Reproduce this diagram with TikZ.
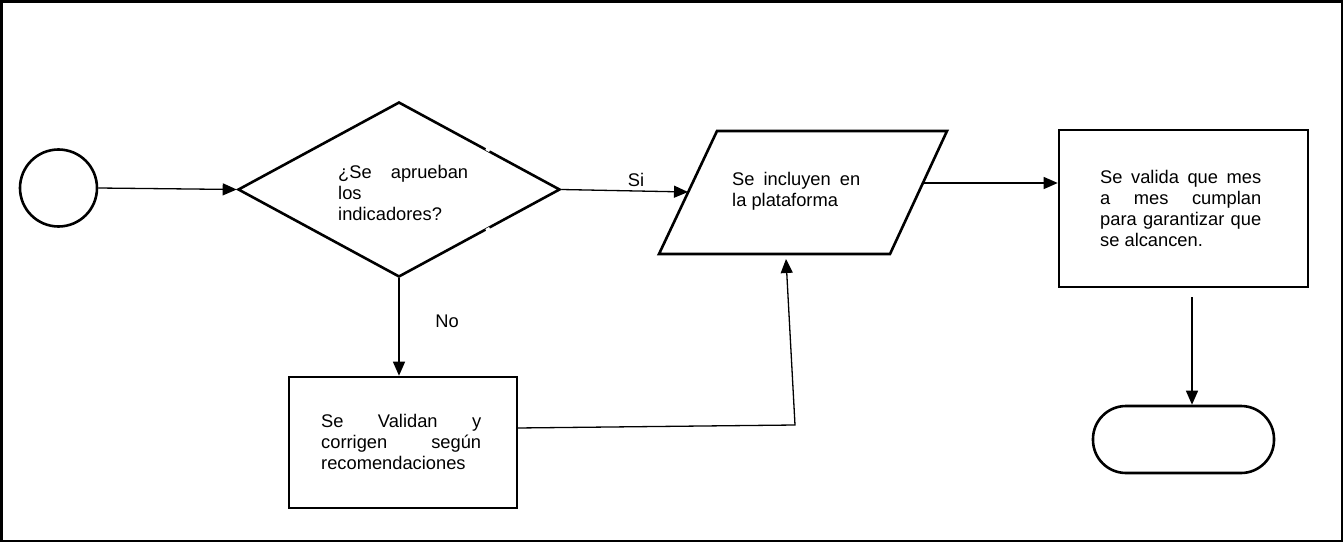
\documentclass[tikz,border=0pt]{standalone}
\usepackage{fontspec}
\setmainfont{Liberation Sans}
\usetikzlibrary{shapes.geometric,arrows.meta,calc}

% one justified line of a fixed-width text block
\newcommand{\jline}[1]{\makebox[\linewidth][s]{#1}}

\begin{document}
\begin{tikzpicture}[x=1pt,y=-1pt,
  shapeline/.style={draw=black,line width=2.6pt,inner sep=0pt},
  flow/.style={draw=black,line width=1.3pt,-{Triangle[length=14pt,width=12pt]}},
  txt/.style={inner sep=0pt,anchor=base west,font=\fontsize{18.3}{21.3}\selectfont},
  lbl/.style={inner sep=0pt,font=\fontsize{18.3}{21.3}\selectfont},
]
\useasboundingbox (0,0) rectangle (1344,543);

% outer frame
\draw[line width=2.2pt] (1.5,1.5) rectangle (1342,541);

% start event
\node[shapeline,circle,minimum size=77pt] (start) at (58.5,188) {};

% decision
\node[shapeline,diamond,minimum width=322pt,minimum height=175pt] (dec) at (399,189.5) {};
\draw[white,line width=3.6pt] ($(dec.north)!0.537!(dec.east)$) -- ($(dec.north)!0.56!(dec.east)$);
\draw[white,line width=3.6pt] ($(dec.east)!0.44!(dec.south)$) -- ($(dec.east)!0.463!(dec.south)$);
\node[txt] (qtext) at (338,178) {\parbox[t]{130pt}{\jline{¿Se aprueban}\\los\\indicadores?}};

% data step (parallelogram)
\coordinate (pa) at (717,131);
\coordinate (pb) at (947,131);
\coordinate (pc) at (890,254);
\coordinate (pd) at (659,254);
\draw[line width=2.6pt,line join=miter] (pa) -- (pb) -- (pc) -- (pd) -- cycle;
\coordinate (parin) at (688,192);
\coordinate (parout) at (923,183);
\coordinate (parbot) at (786,259);
\node[txt] (ptext) at (732,185) {\parbox[t]{128pt}{\jline{Se incluyen en}\\la plataforma}};

% monthly check
\node[shapeline,rectangle,minimum width=249pt,minimum height=157pt] (check) at (1183.5,208.5) {};
\node[txt] (ctext) at (1100,183) {\parbox[t]{161pt}{\jline{Se valida que mes}\\\jline{a mes cumplan}\\\jline{para garantizar que}\\se alcancen.}};
\coordinate (chkout) at (1192,297);

% end terminal
\node[shapeline,rectangle,rounded corners=33pt,minimum width=181pt,minimum height=67pt] (stop) at (1183.5,439.5) {};

% correction step
\node[shapeline,rectangle,minimum width=228pt,minimum height=131pt] (fix) at (403,442.5) {};
\node[txt] (ftext) at (321,427) {\parbox[t]{160pt}{\jline{Se Validan y}\\\jline{corrigen según}\\recomendaciones}};
\coordinate (fixout) at (517,428);
\coordinate (bend) at (795,425);

% connectors
\draw[flow] (start.east) -- (dec.west);
\draw[flow] (dec.east) -- (parin);
\draw[flow] (parout) -- (parout -| check.west);
\draw[flow] (dec.south) -- (dec.south |- fix.north);
\draw[flow] (fixout) -- (bend) -- (parbot);
\draw[flow] (chkout) -- (chkout |- stop.north);

% branch labels
\node[lbl] (yes) at (636,180) {Si};
\node[lbl] (no) at (447,321) {No};
\end{tikzpicture}
\end{document}
